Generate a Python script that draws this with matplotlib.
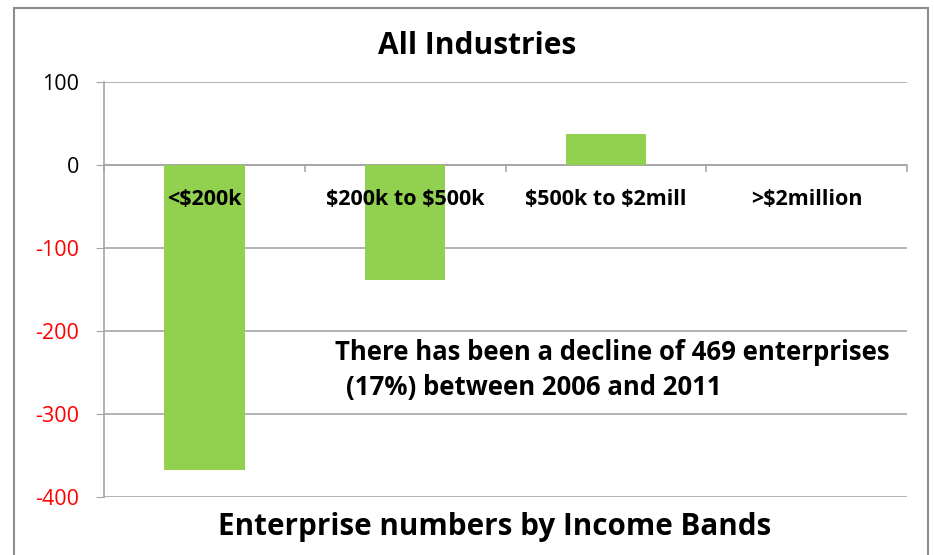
import matplotlib
matplotlib.use("Agg")
import matplotlib.pyplot as plt
from matplotlib.patches import Rectangle
import numpy as np

plt.rcParams["font.family"] = ["Open Sans", "DejaVu Sans"]
plt.rcParams["text.parse_math"] = False

BANDS = ["<$200k", "$200k to $500k", "$500k to $2mill", ">$2million"]
CHANGE = [-368, -138, 37, 0]
Y_TICKS = [100, 0, -100, -200, -300, -400]
NOTE = ["There has been a decline of 469 enterprises",
        "(17%) between 2006 and 2011"]

BAR_COLOR = "#92D050"
GRID_COLOR = "#A6A6A6"

W, H = 934, 555
fig = plt.figure(figsize=(W / 100, H / 100), dpi=100)

# outer chart frame
fig.patches.append(Rectangle((14 / W, -0.02), 914 / W, 1.02 - 8 / H,
                             transform=fig.transFigure, fill=False,
                             edgecolor="#8C8C8C", linewidth=1.5))

ax = fig.add_axes([104 / W, 1 - 497 / H, 803 / W, 415 / H])

x = np.arange(len(BANDS))
ax.bar(x, CHANGE, width=0.4, color=BAR_COLOR, zorder=2)

ax.set_xlim(-0.5, len(BANDS) - 0.5)
ax.set_ylim(-400, 100)
ax.set_yticks(Y_TICKS)
ax.set_yticklabels([str(v) for v in Y_TICKS], fontsize=15.5)
for lbl, v in zip(ax.get_yticklabels(), Y_TICKS):
    lbl.set_color("red" if v < 0 else "black")
ax.tick_params(axis="y", length=6, color=GRID_COLOR, pad=12)
ax.grid(True, axis="y", color=GRID_COLOR, linewidth=1.2, zorder=0)
ax.set_axisbelow(True)

for side in ["top", "right", "bottom"]:
    ax.spines[side].set_visible(False)
ax.spines["left"].set_color(GRID_COLOR)
ax.spines["left"].set_linewidth(1.2)
ax.set_xticks([])

# category axis sits on the zero line with boundary ticks
ax.axhline(0, color=GRID_COLOR, linewidth=1.2, zorder=1)
for b in np.arange(len(BANDS) + 1) - 0.5:
    ax.plot([b, b], [0, -7], color=GRID_COLOR, linewidth=1.2, zorder=1,
            clip_on=False)
for xi, name in zip(x, BANDS):
    ax.text(xi, -42, name, ha="center", va="center", fontsize=15.5,
            fontweight="bold", zorder=3)

fig.text(477 / W, 1 - 46 / H, "All Industries", ha="center", va="center",
         fontsize=21.5, fontweight="bold")
fig.text(495 / W, 1 - 527 / H, "Enterprise numbers by Income Bands",
         ha="center", va="center", fontsize=21.3, fontweight="bold")
fig.text(335 / W, 1 - 353 / H, NOTE[0], ha="left", va="center",
         fontsize=18.5, fontweight="bold")
fig.text(346 / W, 1 - 388 / H, NOTE[1], ha="left", va="center",
         fontsize=18.5, fontweight="bold")

fig.savefig("out.png", dpi=100)
